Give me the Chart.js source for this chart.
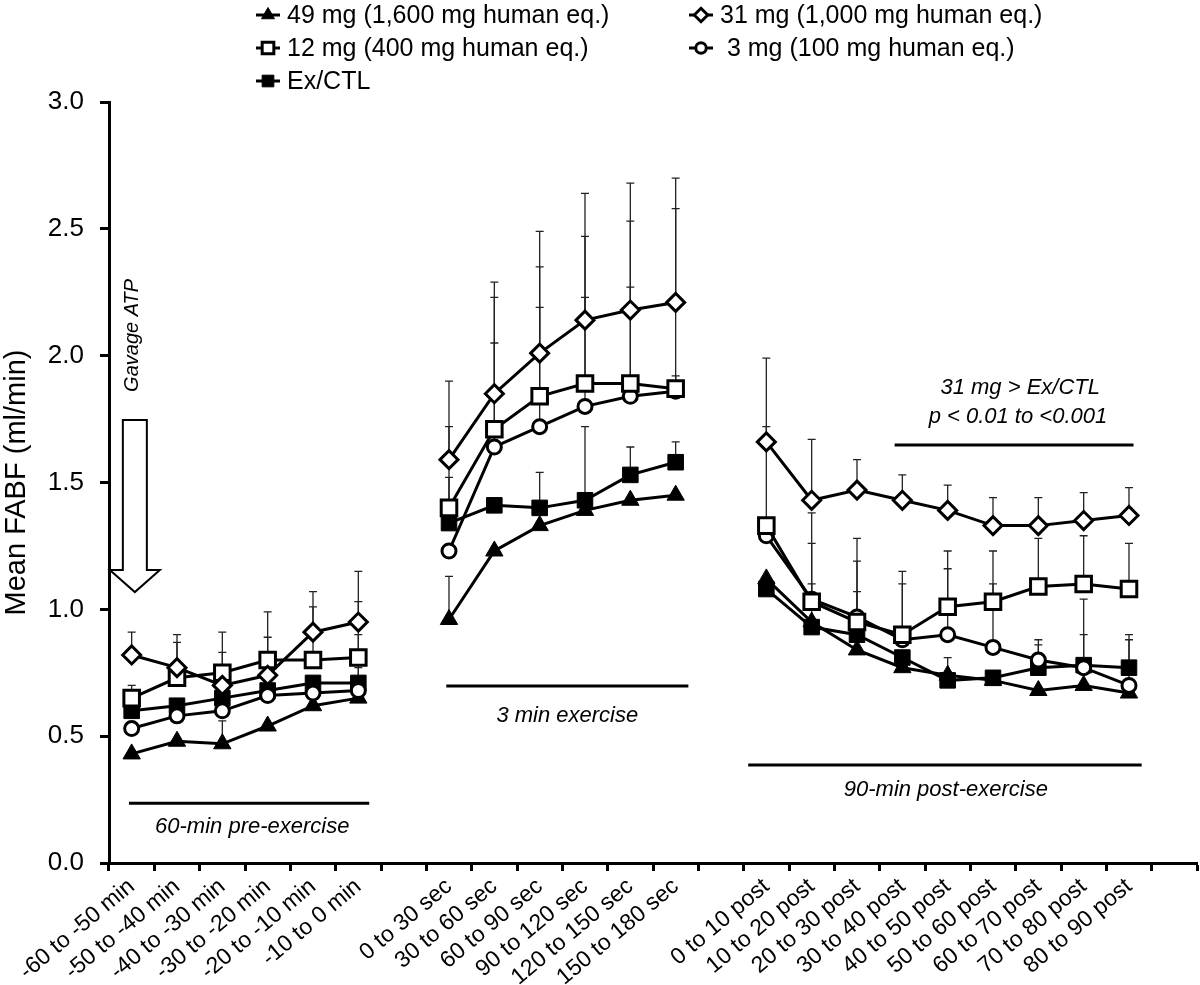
<!DOCTYPE html>
<html>
<head>
<meta charset="utf-8">
<script src="https://cdn.jsdelivr.net/npm/chart.js@4.4.0/dist/chart.umd.min.js"></script>
<style>
  html, body { margin: 0; padding: 0; background: #fff; }
  #wrap { width: 1200px; height: 985px; }
</style>
</head>
<body>
<div id="wrap"><canvas id="fabf" width="1200" height="985"></canvas></div>
<script>
// category labels for the three phases
const preLabels = ['-60 to -50 min', '-50 to -40 min', '-40 to -30 min', '-30 to -20 min', '-20 to -10 min', '-10 to 0 min']
const exLabels = ['0 to 30 sec', '30 to 60 sec', '60 to 90 sec', '90 to 120 sec', '120 to 150 sec', '150 to 180 sec']
const postLabels = ['0 to 10 post', '10 to 20 post', '20 to 30 post', '30 to 40 post', '40 to 50 post',
  '50 to 60 post', '60 to 70 post', '70 to 80 post', '80 to 90 post']
const yTicks = [0, 0.5, 1.0, 1.5, 2.0, 2.5, 3.0]

// mean FABF (ml/min)
const mg49Pre = [0.43, 0.48, 0.47, 0.54, 0.62, 0.65]
const mg49Ex = [0.96, 1.23, 1.33, 1.39, 1.43, 1.45]
const mg49Post = [1.12, 0.95, 0.84, 0.77, 0.74, 0.72, 0.68, 0.70, 0.67]

const mg31Pre = [0.82, 0.77, 0.70, 0.74, 0.91, 0.95]
const mg31Ex = [1.59, 1.85, 2.01, 2.14, 2.18, 2.21]
const mg31Post = [1.66, 1.43, 1.47, 1.43, 1.39, 1.33, 1.33, 1.35, 1.37]

const mg12Pre = [0.65, 0.73, 0.75, 0.80, 0.80, 0.81]
const mg12Ex = [1.40, 1.71, 1.84, 1.89, 1.89, 1.87]
const mg12Post = [1.33, 1.03, 0.95, 0.90, 1.01, 1.03, 1.09, 1.10, 1.08]

const mg3Pre = [0.53, 0.58, 0.60, 0.66, 0.67, 0.68]
const mg3Ex = [1.23, 1.64, 1.72, 1.80, 1.84, 1.86]
const mg3Post = [1.29, 1.04, 0.97, 0.88, 0.90, 0.85, 0.80, 0.77, 0.70]

const ctlPre = [0.60, 0.62, 0.65, 0.68, 0.71, 0.71]
const ctlEx = [1.34, 1.41, 1.40, 1.43, 1.53, 1.58]
const ctlPost = [1.08, 0.93, 0.90, 0.81, 0.72, 0.73, 0.77, 0.78, 0.77]

// upper error bars (SD)
const mg49ErrPre = [null, null, 0.09, null, null, null]
const mg49ErrEx = [0.17, null, null, null, null, null]
const mg49ErrPost = [null, null, null, null, null, null, null, null, null]

const mg31ErrPre = [0.09, 0.13, 0.13, 0.15, 0.16, 0.20]
const mg31ErrEx = [0.31, 0.44, 0.48, 0.50, 0.50, 0.49]
const mg31ErrPost = [0.33, 0.24, 0.12, 0.10, 0.10, 0.11, 0.11, 0.11, 0.11]

const mg12ErrPre = [0.05, 0.14, 0.16, 0.19, 0.21, 0.22]
const mg12ErrEx = [0.32, 0.52, 0.51, 0.58, 0.64, 0.71]
const mg12ErrPost = [0.39, 0.35, 0.33, 0.25, 0.22, 0.20, 0.19, 0.19, 0.18]

const mg3ErrPre = [null, null, null, null, null, 0.09]
const mg3ErrEx = [null, 0.41, 0.47, 0.43, 0.43, 0.06]
const mg3ErrPost = [null, 0.22, 0.22, 0.22, 0.26, 0.25, 0.08, 0.27, 0.20]

const ctlErrPre = [null, null, null, null, null, 0.19]
const ctlErrEx = [0.18, null, 0.14, 0.29, 0.11, 0.08]
const ctlErrPost = [null, 0.17, 0.17, null, 0.09, null, 0.09, 0.12, 0.11]

function joinPhases(pre, ex, post) {
  return [...pre, null, ...ex, null, ...post, null]
}

const labels = joinPhases(preLabels, exLabels, postLabels).map(l => l == null ? '' : l)
const FONT = "'Liberation Sans', Arial, sans-serif"

function series(label, pre, ex, post, errPre, errEx, errPost, style) {
  return Object.assign({
    label: label,
    data: joinPhases(pre, ex, post),
    errorBars: joinPhases(errPre, errEx, errPost),
    borderColor: '#000',
    borderWidth: 3,
    pointBorderColor: '#000',
    pointBorderWidth: 3,
    spanGaps: false,
    tension: 0
  }, style)
}

const datasets = [
  series('31 mg (1,000 mg human eq.)', mg31Pre, mg31Ex, mg31Post, mg31ErrPre, mg31ErrEx, mg31ErrPost,
    { pointStyle: 'rectRot', pointRadius: 9, pointBackgroundColor: '#fff' }),
  series('12 mg (400 mg human eq.)', mg12Pre, mg12Ex, mg12Post, mg12ErrPre, mg12ErrEx, mg12ErrPost,
    { pointStyle: 'rect', pointRadius: 11, pointBackgroundColor: '#fff' }),
  series(' 3 mg (100 mg human eq.)', mg3Pre, mg3Ex, mg3Post, mg3ErrPre, mg3ErrEx, mg3ErrPost,
    { pointStyle: 'circle', pointRadius: 7, pointBackgroundColor: '#fff' }),
  series('Ex/CTL', ctlPre, ctlEx, ctlPost, ctlErrPre, ctlErrEx, ctlErrPost,
    { pointStyle: 'rect', pointRadius: 11, pointBackgroundColor: '#000', pointBorderWidth: 1 }),
  series('49 mg (1,600 mg human eq.)', mg49Pre, mg49Ex, mg49Post, mg49ErrPre, mg49ErrEx, mg49ErrPost,
    { pointStyle: 'triangle', pointRadius: 10, pointBackgroundColor: '#000', pointBorderWidth: 1 })
]

// error bars drawn behind the markers
const errorBarPlugin = {
  id: 'errorBars',
  beforeDatasetsDraw(chart) {
    const ctx = chart.ctx
    const y = chart.scales.y
    ctx.save()
    ctx.strokeStyle = '#222'
    ctx.lineWidth = 1.3
    chart.data.datasets.forEach((ds, i) => {
      const meta = chart.getDatasetMeta(i)
      ds.errorBars.forEach((e, j) => {
        const v = ds.data[j]
        if (e == null || v == null) return
        const px = meta.data[j].x
        const y0 = y.getPixelForValue(v)
        const y1 = y.getPixelForValue(v + e)
        ctx.beginPath()
        ctx.moveTo(px, y0)
        ctx.lineTo(px, y1)
        ctx.moveTo(px - 4, y1)
        ctx.lineTo(px + 4, y1)
        ctx.stroke()
      })
    })
    ctx.restore()
  }
}

// phase bars, notes and the gavage arrow, placed in data units
const phaseLines = [
  { from: -0.06, to: 5.24, at: 0.236 },
  { from: 6.94, to: 12.28, at: 0.698 },
  { from: 13.6, to: 22.28, at: 0.386 },
  { from: 16.83, to: 22.1, at: 1.648 }
]
const notes = [
  { text: '60-min pre-exercise', idx: 2.66, at: 0.142 },
  { text: '3 min exercise', idx: 9.61, at: 0.579 },
  { text: '90-min post-exercise', idx: 17.96, at: 0.288 },
  { text: '31 mg > Ex/CTL', idx: 19.6, at: 1.872 },
  { text: 'p < 0.01 to <0.001', idx: 19.55, at: 1.758 }
]

const notesPlugin = {
  id: 'notes',
  afterDatasetsDraw(chart) {
    const ctx = chart.ctx
    const x = chart.scales.x
    const y = chart.scales.y
    ctx.save()
    ctx.strokeStyle = '#000'
    ctx.lineWidth = 3
    for (const l of phaseLines) {
      ctx.beginPath()
      ctx.moveTo(x.getPixelForValue(l.from), y.getPixelForValue(l.at))
      ctx.lineTo(x.getPixelForValue(l.to), y.getPixelForValue(l.at))
      ctx.stroke()
    }
    ctx.fillStyle = '#000'
    ctx.font = 'italic 22px ' + FONT
    ctx.textAlign = 'center'
    ctx.textBaseline = 'middle'
    for (const n of notes) {
      ctx.fillText(n.text, x.getPixelForValue(n.idx), y.getPixelForValue(n.at))
    }

    // hollow arrow
    const ax = x.getPixelForValue(0.07)
    const top = y.getPixelForValue(1.746)
    const neck = y.getPixelForValue(1.155)
    const tip = y.getPixelForValue(1.068)
    ctx.lineWidth = 2
    ctx.fillStyle = '#fff'
    ctx.beginPath()
    ctx.moveTo(ax - 12, top)
    ctx.lineTo(ax + 12, top)
    ctx.lineTo(ax + 12, neck)
    ctx.lineTo(ax + 25, neck)
    ctx.lineTo(ax, tip)
    ctx.lineTo(ax - 25, neck)
    ctx.lineTo(ax - 12, neck)
    ctx.closePath()
    ctx.fill()
    ctx.stroke()

    ctx.translate(ax - 2, y.getPixelForValue(2.08))
    ctx.rotate(-Math.PI / 2)
    ctx.fillStyle = '#000'
    ctx.font = 'italic 20px ' + FONT
    ctx.fillText('Gavage ATP', 0, 0)
    ctx.restore()
  }
}

// legend laid out in two columns like the figure
const legendSlots = [
  { ds: 4, x: 268, y: 15 },
  { ds: 0, x: 701, y: 15 },
  { ds: 1, x: 268, y: 48 },
  { ds: 2, x: 701, y: 48 },
  { ds: 3, x: 268, y: 81 }
]

const legendPlugin = {
  id: 'figLegend',
  afterDraw(chart) {
    const ctx = chart.ctx
    ctx.save()
    ctx.font = '25px ' + FONT
    ctx.textBaseline = 'middle'
    ctx.textAlign = 'left'
    for (const s of legendSlots) {
      const ds = chart.data.datasets[s.ds]
      ctx.strokeStyle = '#000'
      ctx.lineWidth = 3
      ctx.beginPath()
      ctx.moveTo(s.x - 12, s.y)
      ctx.lineTo(s.x + 12, s.y)
      ctx.stroke()
      ctx.fillStyle = ds.pointBackgroundColor
      ctx.lineWidth = ds.pointBorderWidth
      Chart.helpers.drawPoint(ctx, {
        pointStyle: ds.pointStyle,
        radius: ds.pointRadius * 0.75,
        rotation: 0,
        borderWidth: ds.pointBorderWidth
      }, s.x, s.y)
      ctx.fillStyle = '#000'
      ctx.fillText(ds.label, s.x + 19, s.y + 1)
    }
    ctx.restore()
  }
}

const ctx = document.getElementById('fabf').getContext('2d')
const chart = new Chart(ctx, {
  type: 'line',
  data: { labels: labels, datasets: datasets },
  options: {
    responsive: false,
    animation: false,
    layout: { autoPadding: false, padding: { top: 102, right: 3, left: 0, bottom: 0 } },
    plugins: {
      legend: { display: false },
      tooltip: { enabled: false }
    },
    scales: {
      x: {
        type: 'category',
        offset: true,
        grid: { offset: true, drawOnChartArea: false, drawTicks: true, tickLength: 8, tickWidth: 3, tickColor: '#000' },
        border: { color: '#000', width: 3 },
        ticks: {
          autoSkip: false, minRotation: 40, maxRotation: 40, padding: 2,
          color: '#000', font: { family: FONT, size: 23 }
        },
        afterFit(scale) {
          scale.height = 122
          scale.paddingLeft = 0
          scale.paddingRight = 0
        }
      },
      y: {
        min: 0,
        max: 3,
        afterBuildTicks(scale) { scale.ticks = yTicks.map(v => ({ value: v })) },
        grid: { drawOnChartArea: false, tickLength: 9, tickWidth: 3, tickColor: '#000' },
        border: { color: '#000', width: 3 },
        ticks: {
          padding: 16, color: '#000', font: { family: FONT, size: 26 },
          callback: v => v.toFixed(1)
        },
        title: {
          display: true, text: 'Mean FABF (ml/min)', color: '#000', padding: 0,
          font: { family: FONT, size: 29 }
        },
        afterFit(scale) { scale.width = 109 }
      }
    }
  },
  plugins: [errorBarPlugin, notesPlugin, legendPlugin]
})
</script>
</body>
</html>
